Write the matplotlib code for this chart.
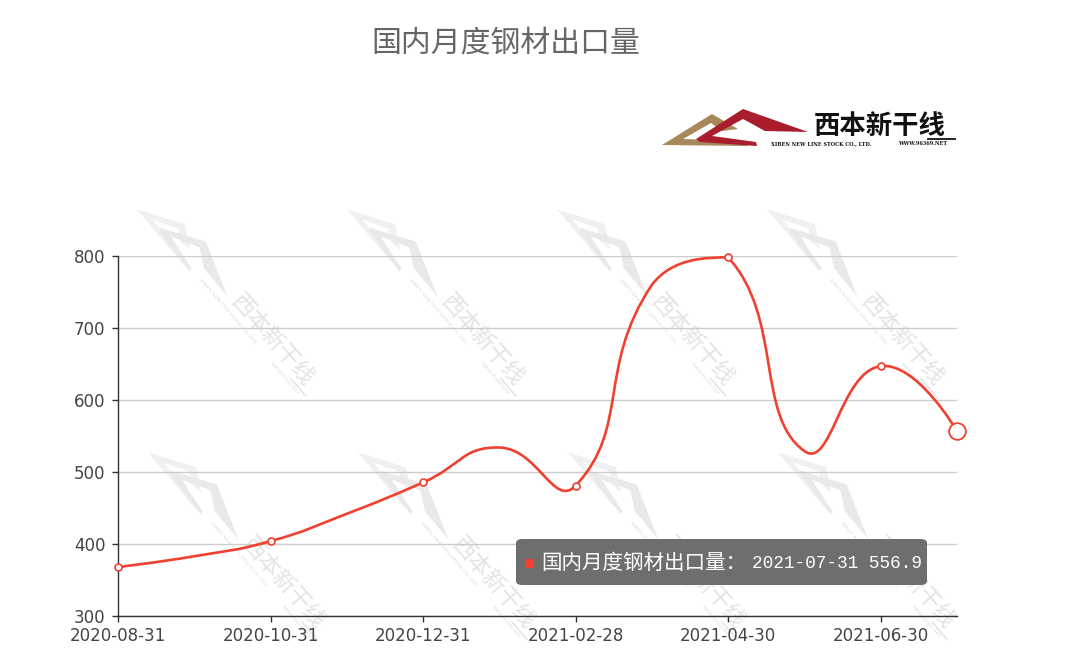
import numpy as np
import matplotlib
matplotlib.use("Agg")
import matplotlib.pyplot as plt
from matplotlib.patches import Polygon, FancyBboxPatch, Rectangle, PathPatch
from matplotlib.path import Path
from matplotlib.lines import Line2D

plt.rcParams["font.family"] = ["Noto Sans CJK SC", "DejaVu Sans"]

W, H = 1071, 657

# ---- data ----
title = "国内月度钢材出口量"
dates = ["2020-08-31", "2020-09-30", "2020-10-31", "2020-11-30",
         "2020-12-31", "2021-01-31", "2021-02-28", "2021-03-31",
         "2021-04-30", "2021-05-31", "2021-06-30", "2021-07-31"]
values = [368, 383, 404, 442, 485.5, 534, 481, 760, 798, 529, 647, 556.9]
y_ticks = [300, 400, 500, 600, 700, 800]
hover_idx = 11

RED = "#f0402f"

fig = plt.figure(figsize=(W / 100, H / 100), dpi=100)
ax = fig.add_axes([118 / W, 1 - 616 / H, (957 - 118) / W, (616 - 256) / H])
ax.patch.set_visible(False)


def px(x, y):
    """image pixel (y down) -> figure fraction"""
    return x / W, 1 - y / H


# ---- logo, used for the header and the background watermark ----
BROWN_POLY = [(662, 145), (712, 114), (738, 129), (722, 131), (711, 123),
              (683, 139), (745, 141), (748, 146)]
RED_POLY = [(696, 139), (743, 109), (808, 132), (765, 131), (743, 119),
            (712, 136), (756, 142), (757, 146), (700, 142)]
ANCHOR = (880, 126)


def draw_logo(center, angle, scale, c_brown, c_red, c_text, zorder, bold=True):
    a = np.deg2rad(angle)
    ca, sa = np.cos(a), np.sin(a)

    def f(x, y):
        dx = (x - ANCHOR[0]) * scale
        dy = -(y - ANCHOR[1]) * scale
        rx = dx * ca - dy * sa
        ry = dx * sa + dy * ca
        return (center[0] + rx) / W, (H - center[1] + ry) / H

    for poly, col in ((BROWN_POLY, c_brown), (RED_POLY, c_red)):
        fig.add_artist(Polygon([f(*p) for p in poly], closed=True,
                               facecolor=col, edgecolor="none",
                               transform=fig.transFigure, zorder=zorder))
    fig.text(*f(880, 126), "西本新干线", rotation=angle, rotation_mode="anchor",
             ha="center", va="center", fontsize=19 * scale,
             fontweight="bold" if bold else "normal",
             color=c_text, zorder=zorder)
    l0, l1 = f(928, 139), f(955, 139)
    fig.add_artist(Line2D([l0[0], l1[0]], [l0[1], l1[1]], color=c_text,
                          lw=1.3 * scale, transform=fig.transFigure, zorder=zorder))
    fig.text(*f(821, 143.5), "XIBEN NEW LINE STOCK CO., LTD.", rotation=angle,
             rotation_mode="anchor", ha="center", va="center",
             fontsize=3.6 * scale, family="DejaVu Serif", fontweight="bold",
             color=c_text, zorder=zorder)
    fig.text(*f(923, 143.5), "WWW.96369.NET", rotation=angle,
             rotation_mode="anchor", ha="center", va="center",
             fontsize=3.6 * scale, family="DejaVu Serif", fontweight="bold",
             color=c_text, zorder=zorder)


draw_logo(ANCHOR, 0, 1.0, "#a8875a", "#a91d2d", "#111111", 5)

# faint tiled watermark behind the plot
for row_y, x_off in ((340, 0), (583, 11)):
    for col_x in (272, 482, 692, 902):
        draw_logo((col_x + x_off, row_y), -49, 0.86,
                  "#f0f0f0", "#e9e9e9", "#e4e4e4", -1, bold=False)

# ---- smoothed line (echarts style bezier, control points kept in bbox) ----
xs = np.arange(len(values), dtype=float)
ys = np.asarray(values, dtype=float)
sx, sy, k = 76.27, 0.72, 0.5
pxs, pys = xs * sx, ys * sy
lo = (pxs.min(), pys.min())
hi = (pxs.max(), pys.max())


def clamp(p):
    return (min(max(p[0], lo[0]), hi[0]), min(max(p[1], lo[1]), hi[1]))


verts = [(pxs[0], pys[0])]
codes = [Path.MOVETO]
cp_out = (pxs[0], pys[0])
n = len(values)
for i in range(1, n):
    x, y = pxs[i], pys[i]
    if i == n - 1:
        cp_in, nxt = (x, y), None
    else:
        vx, vy = pxs[i + 1] - pxs[i - 1], pys[i + 1] - pys[i - 1]
        l0 = np.hypot(x - pxs[i - 1], y - pys[i - 1])
        l1 = np.hypot(pxs[i + 1] - x, pys[i + 1] - y)
        r = l1 / (l0 + l1)
        cp_in = (x - vx * k * (1 - r), y - vy * k * (1 - r))
        nxt = (x + vx * k * r, y + vy * k * r)
    verts += [clamp(cp_out), clamp(cp_in), (x, y)]
    codes += [Path.CURVE4] * 3
    cp_out = nxt
verts = [(a / sx, b / sy) for a, b in verts]
ax.add_patch(PathPatch(Path(verts, codes), fill=False, edgecolor=RED,
                       lw=1.9, zorder=3, clip_on=False, capstyle="round"))

label_idx = list(range(0, n, 2))
ax.plot(xs[label_idx], ys[label_idx], "o", ms=5, mfc="white", mec=RED,
        mew=1.2, zorder=4, clip_on=False)
ax.plot([xs[hover_idx]], [ys[hover_idx]], "o", ms=12, mfc="white", mec=RED,
        mew=1.3, zorder=5, clip_on=False)

# ---- axes styling ----
ax.set_xlim(0, n - 1)
ax.set_ylim(300, 800)
ax.set_yticks(y_ticks)
ax.set_xticks(label_idx, [dates[i] for i in label_idx])
for s in ("top", "right"):
    ax.spines[s].set_visible(False)
for s in ("left", "bottom"):
    ax.spines[s].set_color("#333333")
    ax.spines[s].set_linewidth(1.0)
ax.grid(axis="y", color="#cccccc", lw=1.0)
ax.set_axisbelow(True)
ax.tick_params(axis="both", direction="out", length=4, width=1,
               color="#333333", labelcolor="#444444", labelsize=12)
ax.tick_params(axis="y", pad=5)
ax.tick_params(axis="x", pad=4)
for lab in ax.get_xticklabels() + ax.get_yticklabels():
    lab.set_family("DejaVu Sans")

# ---- title ----
fig.text(*px(506, 43), title, ha="center", va="center", fontsize=21.5,
         color="#666666")

# ---- tooltip ----
x0, y0 = px(516, 585)
fig.add_artist(FancyBboxPatch((x0, y0), (927 - 516) / W, (585 - 539) / H,
                              boxstyle="round,pad=0,rounding_size=0.006",
                              transform=fig.transFigure, facecolor="#6e6e6e",
                              edgecolor="none", zorder=10))
sq = px(525, 568)
fig.add_artist(Rectangle(sq, 9 / W, 9 / H, transform=fig.transFigure,
                         facecolor="#f0402f", edgecolor="none", zorder=11))
fig.text(*px(541, 563), "国内月度钢材出口量：", ha="left", va="center",
         fontsize=14.8, color="white", zorder=11)
fig.text(*px(752, 563), f"{dates[hover_idx]} {values[hover_idx]}",
         ha="left", va="center", fontsize=12.8, family="Liberation Mono",
         color="white", zorder=11)

fig.savefig("out.png", dpi=100)
